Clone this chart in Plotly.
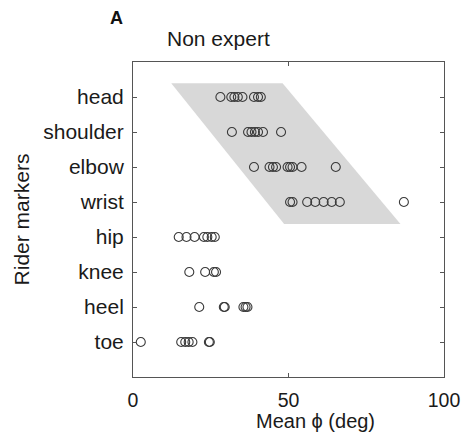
import plotly.graph_objects as go

categories = ["toe", "heel", "knee", "hip", "wrist", "elbow", "shoulder", "head"]

head = [28.1, 31.6, 32.6, 33.7, 35.2, 38.9, 40.2, 41.1]
shoulder = [31.8, 37.0, 38.1, 39.2, 40.2, 41.8, 47.6]
elbow = [38.9, 43.9, 45.0, 46.0, 49.7, 50.5, 51.3, 54.2, 65.2]
wrist = [50.5, 51.3, 56.0, 58.6, 61.3, 63.9, 66.5, 87.1]
hip = [14.7, 17.2, 19.8, 22.8, 23.9, 25.3, 26.3]
knee = [18.1, 23.2, 26.0, 26.7]
heel = [21.3, 29.2, 29.5, 35.5, 36.2, 36.8]
toe = [2.5, 15.5, 16.8, 17.9, 19.1, 24.4, 24.7]

series = {"toe": toe, "heel": heel, "knee": knee, "hip": hip,
          "wrist": wrist, "elbow": elbow, "shoulder": shoulder, "head": head}

# shaded band vertices (data coords)
band_x = [12.3, 48.1, 86.0, 48.6]
band_y = [8.39, 8.39, 4.37, 4.37]

x_ticks = [0, 50, 100]

fig = go.Figure()

path = "M " + " L ".join(f"{x},{y}" for x, y in zip(band_x, band_y)) + " Z"
fig.add_shape(type="path", path=path, xref="x", yref="y",
              fillcolor="#d8d8d8", line=dict(width=0), layer="below")

for i, cat in enumerate(categories):
    vals = series[cat]
    fig.add_trace(go.Scatter(
        x=vals, y=[i + 1] * len(vals), mode="markers",
        marker=dict(symbol="circle-open", size=9, color="#3a3a3a",
                    line=dict(width=1.1, color="#3a3a3a")),
        showlegend=False, hoverinfo="x"))

fam = "Arial, Liberation Sans, sans-serif"
font = dict(family=fam, size=21, color="#1a1a1a")

fig.update_layout(
    width=472, height=438,
    margin=dict(l=133, r=23, t=62, b=61),
    plot_bgcolor="white", paper_bgcolor="white",
    font=font,
    xaxis=dict(range=[0, 100], tickvals=x_ticks, ticks="inside", ticklen=4,
               tickcolor="#555", showline=True, linecolor="#555", linewidth=1,
               mirror="ticks", showgrid=False, zeroline=False,
               ticklabelstandoff=6,
               tickfont=dict(family=fam, size=19.5, color="#1a1a1a")),
    yaxis=dict(range=[0, 9], tickvals=list(range(1, 9)), ticktext=categories,
               ticks="inside", ticklen=4, tickcolor="#555", showline=True,
               linecolor="#555", linewidth=1, mirror="ticks", showgrid=False,
               zeroline=False, ticklabelstandoff=4,
               tickfont=dict(family=fam, size=21, color="#1a1a1a"),
               title=dict(text="Rider markers", standoff=7, font=font)),
    annotations=[
        dict(text="<b>A</b>", x=116, y=18, xref="paper", yref="paper",
             showarrow=False, font=dict(family=fam, size=18, color="#111")),
        dict(text="Non expert", x=220, y=38, xref="paper", yref="paper",
             showarrow=False, font=font),
        dict(text="Mean \u03d5 (deg)", x=318, y=421, xref="paper", yref="paper",
             showarrow=False, font=dict(family=fam, size=20, color="#1a1a1a")),
    ],
)

# convert pixel positions for annotations to paper coords
pw, ph = 472 - 133 - 23, 438 - 62 - 61
for ann in fig.layout.annotations:
    px, py = ann.x, ann.y
    ann.x = (px - 133) / pw
    ann.y = 1 + (62 - py) / ph
    ann.xanchor = "center"
    ann.yanchor = "middle"

fig.write_html("out.html")
